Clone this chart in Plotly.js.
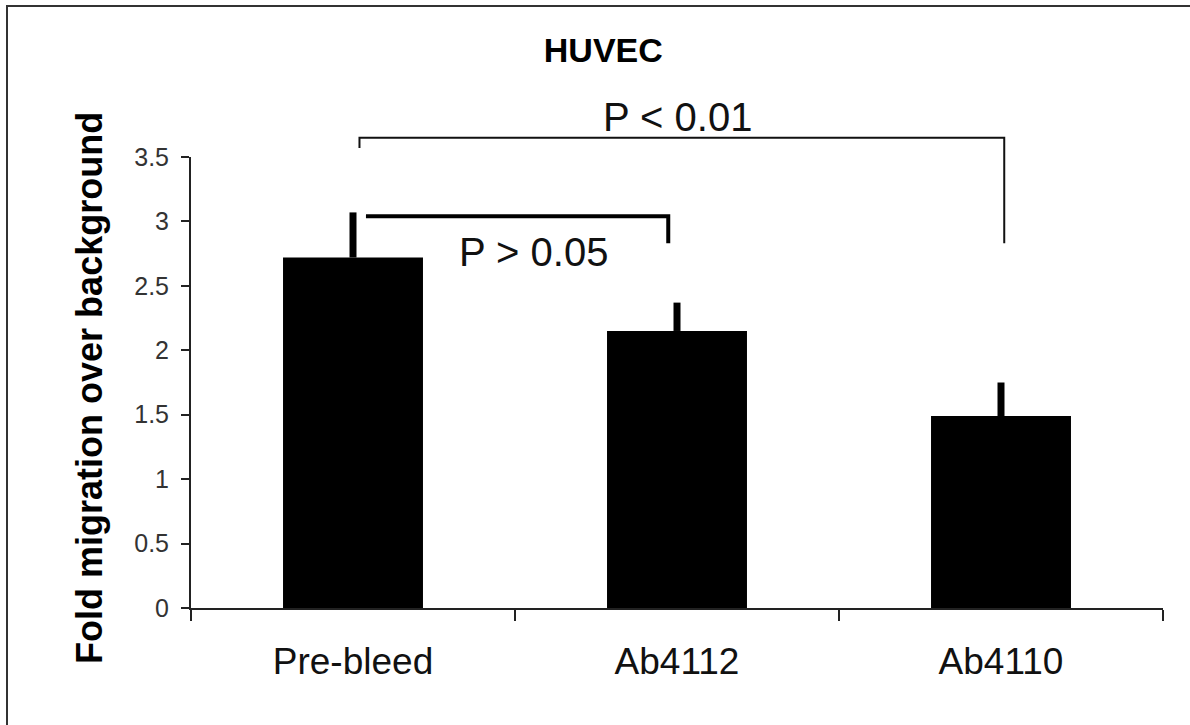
<!DOCTYPE html>
<html><head><meta charset="utf-8">
<script src="https://cdn.plot.ly/plotly-3.0.1.min.js"></script>
<style>
html,body{margin:0;padding:0;background:#fff;}
#chart{width:1190px;height:725px;}
#frame{position:absolute;left:6px;top:5px;width:1200px;height:740px;border-left:2px solid #333;border-top:2px solid #333;pointer-events:none;}
</style>
</head><body>
<div id="chart"></div><div id="frame"></div>
<script>
const categories = ['Pre-bleed', 'Ab4112', 'Ab4110'];
const meanValues = [2.72, 2.15, 1.49];
const errorPlus = [0.35, 0.22, 0.26];
const errorMinus = [0, 0, 0];
const yTickVals = [0, 0.5, 1, 1.5, 2, 2.5, 3, 3.5];
const yTickText = ['0', '0.5', '1', '1.5', '2', '2.5', '3', '3.5'];
// significance brackets (x in category-index units, y in data units)
const bracketNsX = [0.04, 0.973, 0.973];
const bracketNsY = [3.04, 3.04, 2.83];
const bracketSigX = [0.02, 0.02, 2.01, 2.01];
const bracketSigY = [3.57, 3.65, 3.65, 2.83];
const labelNs = {text: 'P > 0.05', x: 0.556, y: 2.76};
const labelSig = {text: 'P < 0.01', x: 1.0, y: 3.81};

const FONT = 'Liberation Sans, Arial, sans-serif';
const Y_MAX = 3.5;
const MARGIN = {l: 191, r: 27, t: 60, b: 117};
const plotH = 725 - MARGIN.t - MARGIN.b;
const mainTop = 451 / plotH;           // fraction of plot height used by the visible y axis
const overlayMax = Y_MAX / mainTop;    // same data scale extended to the top of the plot area

const traces = [
  {
    type: 'bar', x: categories, y: meanValues, xaxis: 'x', yaxis: 'y',
    marker: {color: '#000', line: {width: 0}},
    error_y: {type: 'data', symmetric: false, array: errorPlus, arrayminus: errorMinus,
              color: '#000', thickness: 7, width: 0},
    hoverinfo: 'skip', showlegend: false
  },
  {
    type: 'scatter', mode: 'lines', xaxis: 'x2', yaxis: 'y2',
    x: bracketNsX, y: bracketNsY, cliponaxis: false,
    line: {color: '#000', width: 4}, showlegend: false, hoverinfo: 'skip'
  },
  {
    type: 'scatter', mode: 'lines', xaxis: 'x2', yaxis: 'y2',
    x: bracketSigX, y: bracketSigY, cliponaxis: false,
    line: {color: '#111', width: 2}, showlegend: false, hoverinfo: 'skip'
  }
];

const layout = {
  width: 1190, height: 725,
  margin: MARGIN,
  paper_bgcolor: '#fff', plot_bgcolor: 'rgba(0,0,0,0)',
  bargap: 0.568,
  showlegend: false,
  title: {text: '<b>HUVEC</b>', x: 0.507, xanchor: 'center', y: 0.931, yanchor: 'middle',
          font: {family: FONT, size: 34, color: '#000'}},
  xaxis: {
    type: 'category', range: [-0.5, 2.5], tickson: 'boundaries', anchor: 'y',
    ticks: 'outside', ticklen: 11, tickwidth: 2, tickcolor: '#222',
    showline: true, linecolor: '#222', linewidth: 2, showgrid: false, zeroline: false,
    tickfont: {family: FONT, size: 37, color: '#111'}, ticklabelstandoff: 20
  },
  yaxis: {
    domain: [0, mainTop], anchor: 'x',
    range: [0, Y_MAX], tickvals: yTickVals, ticktext: yTickText,
    ticks: 'outside', ticklen: 8, tickwidth: 2, tickcolor: '#222',
    showline: true, linecolor: '#222', linewidth: 2, showgrid: false, zeroline: false,
    tickfont: {family: FONT, size: 25, color: '#333'}, ticklabelstandoff: 7
  },
  xaxis2: {anchor: 'y2', range: [-0.5, 2.5], visible: false, showgrid: false, zeroline: false},
  yaxis2: {anchor: 'x2', domain: [0, 1], range: [0, overlayMax], visible: false, showgrid: false, zeroline: false},
  annotations: [
    {xref: 'x2', yref: 'y2', x: labelNs.x, y: labelNs.y, text: labelNs.text, showarrow: false,
     xanchor: 'center', yanchor: 'middle', font: {family: FONT, size: 40, color: '#111'}},
    {xref: 'x2', yref: 'y2', x: labelSig.x, y: labelSig.y, text: labelSig.text, showarrow: false,
     xanchor: 'center', yanchor: 'middle', font: {family: FONT, size: 40, color: '#111'}},
    {xref: 'paper', yref: 'paper', x: -0.104, y: (608 - 388) / plotH, textangle: -90,
     text: '<b>Fold migration over background</b>', showarrow: false,
     xanchor: 'center', yanchor: 'middle', font: {family: FONT, size: 36, color: '#000'}}
  ]
};

Plotly.newPlot('chart', traces, layout, {staticPlot: true, displayModeBar: false});
</script>
</body></html>
